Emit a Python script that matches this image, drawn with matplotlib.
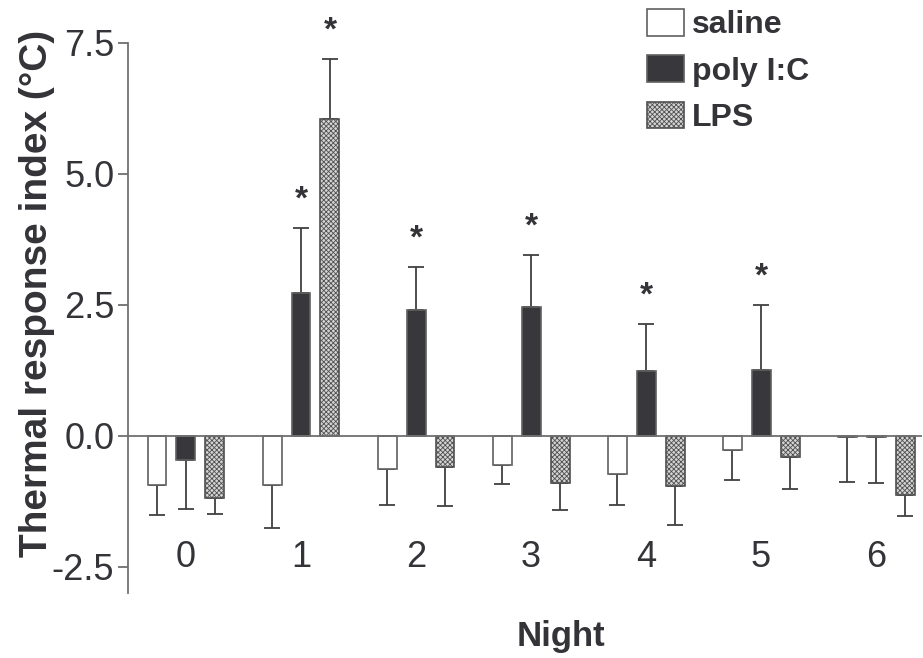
import numpy as np
import matplotlib
matplotlib.use('Agg')
import matplotlib.pyplot as plt
from matplotlib.patches import Patch

plt.rcParams['font.family'] = ['Liberation Sans', 'DejaVu Sans']
plt.rcParams['hatch.linewidth'] = 0.6

nights = [0, 1, 2, 3, 4, 5, 6]
groups = ['saline', 'poly I:C', 'LPS']

saline_mean = [-0.94, -0.93, -0.64, -0.56, -0.72, -0.27, -0.03]
saline_sem = [0.57, 0.83, 0.68, 0.36, 0.60, 0.58, 0.85]
poly_mean = [-0.46, 2.73, 2.40, 2.46, 1.24, 1.25, -0.02]
poly_sem = [0.94, 1.23, 0.82, 0.99, 0.89, 1.24, 0.88]
lps_mean = [-1.18, 6.05, -0.59, -0.90, -0.96, -0.40, -1.12]
lps_sem = [0.31, 1.14, 0.75, 0.51, 0.74, 0.62, 0.41]

# (group index, night) pairs marked with *
significant = [(1, 1), (1, 2), (1, 3), (1, 4), (1, 5), (2, 1)]

yticks = [-2.5, 0.0, 2.5, 5.0, 7.5]

TXT = '#333338'
EDGE = '#606060'
styles = [
    dict(facecolor='white', edgecolor=EDGE),
    dict(facecolor='#38373c', edgecolor=EDGE),
    dict(facecolor='#d4d4d4', edgecolor='#505050', hatch='xxxxxxx'),
]

fig = plt.figure(figsize=(9.23, 6.58), dpi=100)
ax = fig.add_axes([0.1387, 0.0988, 0.8603, 0.8359])

x = np.arange(len(nights))
width = 0.165
offset = 0.252
means = [saline_mean, poly_mean, lps_mean]
sems = [saline_sem, poly_sem, lps_sem]

for i, (m, s) in enumerate(zip(means, sems)):
    m = np.array(m)
    s = np.array(s)
    xs = x + (i - 1) * offset
    ax.bar(xs, m, width, linewidth=1.2, zorder=2, **styles[i])
    # one-sided error bars in the direction of the bar
    lower = np.where(m < 0, s, 0)
    upper = np.where(m >= 0, s, 0)
    ax.errorbar(xs, m, yerr=[lower, upper], fmt='none', ecolor='#404040',
                elinewidth=1.3, capsize=5.5, capthick=1.3, zorder=1)

for gi, n in significant:
    tip = means[gi][n] + sems[gi][n]
    ax.annotate('*', (x[n] + (gi - 1) * offset, tip), xytext=(0, 9),
                textcoords='offset points', ha='center', va='bottom',
                fontsize=24, fontweight='bold', color=TXT, annotation_clip=False)

ax.axhline(0, color='#707070', linewidth=1.3, zorder=3)

ax.set_xlim(-0.504, 6.40)
ax.set_ylim(-3.0, 7.5)
ax.set_yticks(yticks)
ax.set_yticklabels(['%.1f' % v for v in yticks])
ax.set_xticks([])
for n in nights:
    ax.text(n, -2.5, str(n), ha='center', va='baseline', fontsize=26, color=TXT)

for sp in ['top', 'right', 'bottom']:
    ax.spines[sp].set_visible(False)
ax.spines['left'].set_color('#707070')
ax.spines['left'].set_linewidth(1.3)
ax.tick_params(axis='y', length=7, width=1.3, color='#707070', labelsize=26,
               labelcolor=TXT, pad=3)

ax.set_ylabel('Thermal response index (\u00b0C)', fontsize=28, fontweight='bold',
              color=TXT, va='center')
ax.yaxis.set_label_coords(-0.1146, 0.545)
ax.set_xlabel('Night', fontsize=25, fontweight='bold', color=TXT)
ax.xaxis.set_label_coords(0.545, -0.08)
ax.xaxis.label.set_va('center')

handles = [Patch(linewidth=1.2, **st) for st in styles]
leg = ax.legend(handles, groups, loc='upper left', bbox_to_anchor=(647 / 923, 1 - 9 / 658),
                bbox_transform=fig.transFigure, frameon=False,
                prop=dict(size=23, weight='bold'), handlelength=1.15,
                handleheight=0.9, handletextpad=0.25, labelspacing=0.47,
                borderaxespad=0, borderpad=0)
for t in leg.get_texts():
    t.set_color(TXT)

fig.savefig('out.png', dpi=100)
